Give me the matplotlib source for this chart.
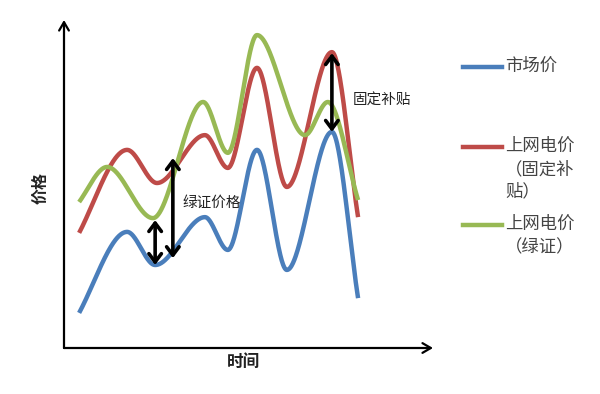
import numpy as np
import matplotlib
matplotlib.use("Agg")
import matplotlib.pyplot as plt
from matplotlib.lines import Line2D

plt.rcParams['font.family'] = ['Noto Sans CJK SC', 'DejaVu Sans']

# ---- data (time 0-100, price 0-100) ----
market_t = [4.1, 17.1, 24.7, 38.2, 44.4, 52.3, 60.4, 72.6, 79.7]
market_v = [10.7, 35.4, 25.3, 39.9, 29.9, 60.4, 23.8, 65.9, 15.2]

fixed_t = [4.1, 17.1, 25.2, 38.2, 44.4, 52.3, 60.4, 72.6, 79.7]
fixed_v = [35.1, 60.4, 50.3, 64.9, 54.9, 85.4, 49.1, 90.2, 39.9]

green_t = [4.1, 11.7, 24.1, 37.7, 44.4, 52.3, 65.3, 71.5, 79.7]
green_v = [44.5, 55.2, 39.6, 75.0, 59.5, 95.4, 64.9, 75.0, 45.1]

# double arrows: (time, low price, high price)
arrow_t = [24.7, 29.5, 72.6]
arrow_lo = [25.3, 27.4, 65.9]
arrow_hi = [39.0, 57.9, 89.9]

legend_labels = ["市场价", "上网电价\n（固定补\n贴）", "上网电价\n（绿证）"]
colors = ["#4A7EBB", "#BE4B48", "#98B954"]


def pchip(x, y, xn):
    x = np.asarray(x, float); y = np.asarray(y, float)
    h = np.diff(x); d = np.diff(y) / h
    n = len(x)
    m = np.zeros(n)
    for k in range(1, n - 1):
        if d[k - 1] * d[k] > 0:
            w1 = 2 * h[k] + h[k - 1]; w2 = h[k] + 2 * h[k - 1]
            m[k] = (w1 + w2) / (w1 / d[k - 1] + w2 / d[k])
    m[0] = d[0] * 1.1
    m[-1] = d[-1] * 1.0
    out = np.empty_like(xn)
    idx = np.clip(np.searchsorted(x, xn) - 1, 0, n - 2)
    for i, xv in enumerate(xn):
        k = idx[i]
        s = (xv - x[k]) / h[k]
        h00 = 2 * s**3 - 3 * s**2 + 1
        h10 = s**3 - 2 * s**2 + s
        h01 = -2 * s**3 + 3 * s**2
        h11 = s**3 - s**2
        out[i] = h00 * y[k] + h10 * h[k] * m[k] + h01 * y[k + 1] + h11 * h[k] * m[k + 1]
    return out


fig = plt.figure(figsize=(6.0, 3.94), dpi=100)
ax = fig.add_axes([64 / 600, 46 / 394, 369 / 600, 328 / 394])
ax.set_xlim(0, 100)
ax.set_ylim(0, 100)
for s in ax.spines.values():
    s.set_visible(False)
ax.set_xticks([]); ax.set_yticks([])

series = [(market_t, market_v), (fixed_t, fixed_v), (green_t, green_v)]
for i in range(3):
    t, v = series[i]
    tt = np.linspace(t[0], t[-1], 600)
    ax.plot(tt, pchip(t, v, tt), color=colors[i], lw=3.2, solid_capstyle='butt', zorder=2)

for t, lo, hi in zip(arrow_t, arrow_lo, arrow_hi):
    ax.annotate("", xy=(t, hi), xytext=(t, lo),
                arrowprops=dict(arrowstyle="<->,head_length=0.6,head_width=0.45",
                                color="black", lw=2.6, shrinkA=0, shrinkB=0),
                zorder=4)

ax.text(32.2, 44.2, "绿证价格", fontsize=10.5, ha='left', va='center', color='#222222')
ax.text(78.3, 75.3, "固定补贴", fontsize=10.5, ha='left', va='center', color='#222222')

# axes with arrows
ax.annotate("", xy=(0, 1.0), xytext=(0, 0), xycoords='axes fraction',
            arrowprops=dict(arrowstyle="->,head_length=0.6,head_width=0.35", color='black', lw=1.6,
                            shrinkA=0, shrinkB=0), annotation_clip=False)
ax.annotate("", xy=(1.0, 0), xytext=(0, 0), xycoords='axes fraction',
            arrowprops=dict(arrowstyle="->,head_length=0.6,head_width=0.35", color='black', lw=1.6,
                            shrinkA=0, shrinkB=0), annotation_clip=False)

fig.text(40 / 600, 1 - 188 / 394, "价格", rotation=90, fontsize=11.5, ha='center', va='center',
         color='#222222', fontweight='bold')
fig.text(244 / 600, 1 - 362 / 394, "时间", fontsize=12, ha='center', va='center',
         color='#222222', fontweight='bold')

# legend
leg_y = [67, 147, 225]
for i in range(3):
    fig.add_artist(Line2D([463 / 600, 502 / 600], [1 - leg_y[i] / 394] * 2,
                          color=colors[i], lw=3.2, transform=fig.transFigure))
    fig.text(505 / 600, 1 - (leg_y[i] - 10) / 394, legend_labels[i], fontsize=12.5,
             ha='left', va='top', color='#444444', linespacing=1.35)

fig.savefig("out.png", dpi=100)
